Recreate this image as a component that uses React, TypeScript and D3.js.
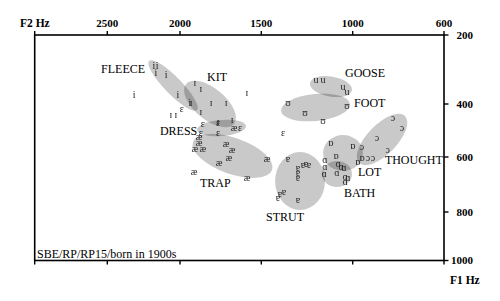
import React from "react";
import * as d3 from "d3";

// ---------- data ----------
const F2_TICKS = [2500, 2000, 1500, 1000, 600];
const F1_TICKS = [200, 400, 600, 800, 1000];

const VOWELS = ["FLEECE", "KIT", "DRESS", "TRAP", "STRUT", "GOOSE", "FOOT", "THOUGHT", "LOT", "BATH"];
const SYMBOLS = ["i", "ɪ", "ɛ", "æ", "ɐ", "u", "ʊ", "ɔ", "ɒ", "ɑ"];

// tokens [F2 Hz, F1 Hz]
const FLEECE_TOKENS = [[2179, 290], [2158, 290], [2165, 310], [2096, 316], [2014, 374], [1939, 397], [2316, 374]];
const KIT_TOKENS = [[1908, 339], [1871, 357], [1932, 397], [1809, 397], [1717, 397], [1871, 430], [1766, 468], [1680, 460], [1588, 368], [2062, 441], [2028, 441]];
const DRESS_TOKENS = [[1859, 475], [1766, 472], [1871, 509], [1766, 509], [1631, 490], [1988, 419], [1381, 509]];
const TRAP_TOKENS = [[1883, 524], [1883, 547], [1908, 570], [1859, 570], [1717, 551], [1680, 574], [1699, 604], [1760, 622], [1469, 607], [1588, 676], [1914, 655], [1668, 490]];
const STRUT_TOKENS = [[1354, 607], [1299, 640], [1299, 658], [1299, 676], [1272, 629], [1255, 626], [1239, 629], [1398, 735], [1376, 728], [1409, 749], [1299, 757]];
const GOOSE_TOKENS = [[1201, 331], [1163, 331], [1053, 351], [1031, 365]];
const FOOT_TOKENS = [[1354, 397], [1261, 434], [1163, 464], [1031, 408]];
const THOUGHT_TOKENS = [[823, 453], [784, 490], [894, 528], [846, 574], [959, 562], [933, 604], [911, 604]];
const LOT_TOKENS = [[1119, 547], [999, 558], [1091, 596], [977, 619], [959, 604]];
const BATH_TOKENS = [[1152, 611], [1152, 636], [1157, 662], [1080, 625], [1064, 636], [1048, 640], [1086, 658], [1042, 673], [1026, 676], [1042, 691]];

const TOKENS = [FLEECE_TOKENS, KIT_TOKENS, DRESS_TOKENS, TRAP_TOKENS, STRUT_TOKENS, GOOSE_TOKENS, FOOT_TOKENS, THOUGHT_TOKENS, LOT_TOKENS, BATH_TOKENS];

// ellipse major-axis endpoints [F2, F1] and minor/major ratio
const ELLIPSE_A = [[2213, 275], [1963, 342], [1895, 498], [1920, 543], [1288, 581], [1234, 339], [1392, 426], [972, 622], [1162, 585], [1168, 662]];
const ELLIPSE_B = [[1895, 423], [1668, 475], [1594, 483], [1441, 647], [1288, 793], [1004, 360], [1015, 400], [771, 445], [955, 585], [1004, 662]];
const ELLIPSE_RATIO = [0.25, 0.5, 0.33, 0.43, 0.86, 0.47, 0.39, 0.45, 0.9, 0.87];

// label anchors [F2, F1]
const LABEL_POS = [[2543, 310], [1834, 333], [2138, 517], [1877, 709], [1474, 838], [1042, 322], [994, 411], [859, 625], [977, 669], [1048, 745]];

const CAPTION = "SBE/RP/RP15/born in 1900s";

// ---------- chart ----------
const W = 500;
const H = 301;
const LEFT = 34.7;
const RIGHT = 444;
const TOP = 35;
const BOTTOM = 260.5;

const x = d3.scaleLinear().domain(F2_TICKS).range([107.3, 180, 261.3, 352.7, RIGHT]);
const y = d3.scaleLinear().domain(F1_TICKS).range([TOP, 104, 157, 212, BOTTOM]);

const SERIF = "'Liberation Serif', 'Times New Roman', 'DejaVu Serif', serif";

export default function App() {
  const ellipses = VOWELS.map((v, i) => {
    const ax = x(ELLIPSE_A[i][0]);
    const ay = y(ELLIPSE_A[i][1]);
    const bx = x(ELLIPSE_B[i][0]);
    const by = y(ELLIPSE_B[i][1]);
    const cx = (ax + bx) / 2;
    const cy = (ay + by) / 2;
    const rx = Math.hypot(bx - ax, by - ay) / 2;
    const ry = rx * ELLIPSE_RATIO[i];
    const ang = (Math.atan2(by - ay, bx - ax) * 180) / Math.PI;
    return { v, cx, cy, rx, ry, ang };
  });

  const xTickPos = [LEFT, ...F2_TICKS.map((t) => x(t))];

  return (
    <svg width={W} height={H} style={{ position: "absolute", left: 0, top: 0, background: "#fff" }}>
      <defs>
        <filter id="gray" x={0} y={0} width={W} height={H} filterUnits="userSpaceOnUse">
          <feColorMatrix type="saturate" values="0" />
        </filter>
      </defs>
      <rect x={0} y={0} width={W} height={H} fill="#fff" />
      {ellipses.map((e) => (
        <ellipse
          key={e.v}
          cx={e.cx}
          cy={e.cy}
          rx={e.rx}
          ry={e.ry}
          transform={`rotate(${e.ang} ${e.cx} ${e.cy})`}
          fill="#000"
          fillOpacity={0.21}
        />
      ))}
      <g filter="url(#gray)">
        {TOKENS.map((toks, i) =>
          toks.map((t, j) => (
            <text
              key={`${i}-${j}`}
              x={x(t[0])}
              y={y(t[1])}
              dy="0.32em"
              textAnchor="middle"
              fontFamily={SERIF}
              fontSize={10}
              fill="#222"
            >
              {SYMBOLS[i]}
            </text>
          ))
        )}
      </g>
      <g>
        {VOWELS.map((v, i) => (
          <text key={v} x={x(LABEL_POS[i][0])} y={y(LABEL_POS[i][1])} fontFamily={SERIF} fontSize={12} fill="#000">
            {v}
          </text>
        ))}
        <text x={37} y={257.5} fontFamily={SERIF} fontSize={12} fill="#000">
          {CAPTION}
        </text>
      </g>

      {/* frame */}
      <rect x={LEFT} y={TOP} width={RIGHT - LEFT} height={BOTTOM - TOP} fill="none" stroke="#000" strokeWidth={1.6} />
      {xTickPos.map((p, i) => (
        <g key={i}>
          <line x1={p} x2={p} y1={TOP - 4} y2={TOP} stroke="#000" strokeWidth={1.4} />
          <line x1={p} x2={p} y1={BOTTOM} y2={BOTTOM + 4} stroke="#000" strokeWidth={1.4} />
        </g>
      ))}
      {F1_TICKS.map((t) => (
        <line key={t} x1={RIGHT} x2={RIGHT + 4.5} y1={y(t)} y2={y(t)} stroke="#000" strokeWidth={1.4} />
      ))}
      <g>
        {F2_TICKS.map((t) => (
          <text key={t} x={x(t)} y={27} textAnchor="middle" fontFamily={SERIF} fontWeight="bold" fontSize={11} fill="#000">
            {t}
          </text>
        ))}
        {F1_TICKS.map((t) => (
          <text key={t} x={473} y={y(t)} dy="0.35em" textAnchor="end" fontFamily={SERIF} fontWeight="bold" fontSize={11} fill="#000">
            {t}
          </text>
        ))}
        <text x={20} y={27} fontFamily={SERIF} fontWeight="bold" fontSize={11.5} fill="#000">
          F2 Hz
        </text>
        <text x={450} y={284} fontFamily={SERIF} fontWeight="bold" fontSize={11.5} fill="#000">
          F1 Hz
        </text>
      </g>
    </svg>
  );
}
